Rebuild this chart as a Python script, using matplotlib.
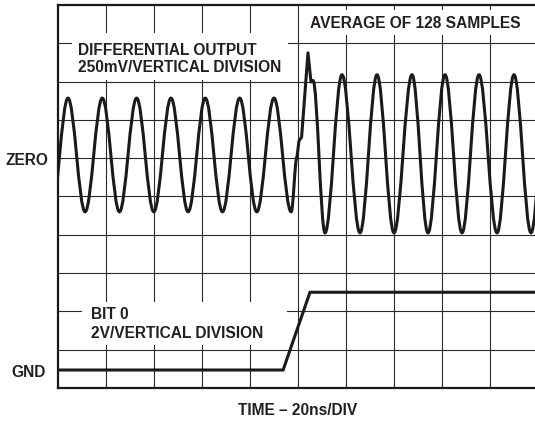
import matplotlib
matplotlib.use("Agg")
import matplotlib.pyplot as plt
from matplotlib.path import Path
from matplotlib.patches import PathPatch, Rectangle

plt.rcParams['font.family'] = ['Liberation Sans', 'DejaVu Sans']

# differential output, peaks and troughs (divisions)
pre_t = [-0.14, 0.208, 0.565, 0.923, 1.28, 1.638, 1.996, 2.354, 2.711,
         3.069, 3.427, 3.785, 4.142, 4.5, 4.858]
pre_v = [4.6, 7.57, 4.6, 7.57, 4.6, 7.57, 4.6, 7.57, 4.6,
         7.57, 4.6, 7.57, 4.6, 7.57, 4.6]

# glitch when bit 0 switches
glitch_t = [4.979, 5.02, 5.075, 5.208, 5.271, 5.313]
glitch_v = [6.03, 6.45, 6.55, 8.75, 7.99, 8.03]

post_t = [5.5625, 5.917, 6.292, 6.646, 7.0, 7.375, 7.708, 8.063,
          8.417, 8.771, 9.146, 9.5, 9.854, 10.21]
post_v = [4.05, 8.18, 4.05, 8.18, 4.05, 8.18, 4.05, 8.18,
          4.05, 8.18, 4.05, 8.18, 4.05, 8.18]

# bit 0 trace
bit_t = [0, 4.69, 5.25, 10.5]
bit_v = [0.47, 0.47, 2.5, 2.5]

K = 0.3634  # cubic bezier handle for a half cosine


def add_curve(verts, codes, p0, p1):
    dx = p1[0] - p0[0]
    verts += [(p0[0] + K * dx, p0[1]), (p1[0] - K * dx, p1[1]), p1]
    codes += [Path.CURVE4] * 3


verts = [(pre_t[0], pre_v[0])]
codes = [Path.MOVETO]
for i in range(1, len(pre_t)):
    add_curve(verts, codes, verts[-1], (pre_t[i], pre_v[i]))
add_curve(verts, codes, verts[-1], (glitch_t[0], glitch_v[0]))
for i in range(1, len(glitch_t)):
    verts.append((glitch_t[i], glitch_v[i]))
    codes.append(Path.LINETO)
for i in range(len(post_t)):
    add_curve(verts, codes, verts[-1], (post_t[i], post_v[i]))

fig = plt.figure(figsize=(5.35, 4.23), dpi=100)
ax = fig.add_axes([58 / 535, 35 / 423, 480 / 535, 383 / 423])
ax.set_xlim(0, 10)
ax.set_ylim(0, 10)
ax.set_xticks([])
ax.set_yticks([])
for s in ['top', 'left', 'bottom']:
    ax.spines[s].set_linewidth(1.6)
    ax.spines[s].set_color('#1a1a1a')
ax.spines['right'].set_visible(False)

for k in range(1, 10):
    ax.axvline(k, color='#2a2a2a', lw=0.8, zorder=1)
    ax.axhline(k, color='#2a2a2a', lw=0.8, zorder=1)

# white label areas that hide the graticule
for x0, y0, w, h in [(0.29, 8.04, 4.5, 1.23), (5.04, 9.22, 5.2, 0.65),
                     (0.5, 1.12, 4.27, 1.13)]:
    ax.add_patch(Rectangle((x0, y0), w, h, facecolor='white',
                           edgecolor='none', zorder=2))

ax.add_patch(PathPatch(Path(verts, codes), facecolor='none',
                       edgecolor='#1a1a1a', lw=2.2, zorder=4,
                       capstyle='round', joinstyle='round'))
ax.plot(bit_t, bit_v, color='#1a1a1a', lw=2.2, zorder=4,
        solid_joinstyle='miter')

fs = 11.2
tk = dict(fontsize=fs, fontweight='bold', color='#231f20', zorder=3,
          va='baseline')
ax.text(0.417, 8.69, 'DIFFERENTIAL OUTPUT', ha='left', **tk)
ax.text(0.417, 8.25, '250mV/VERTICAL DIVISION', ha='left', **tk)
ax.text(5.25, 9.40, 'AVERAGE OF 128 SAMPLES', ha='left', **tk)
ax.text(0.69, 1.80, 'BIT 0', ha='left', **tk)
ax.text(0.69, 1.31, '2V/VERTICAL DIVISION', ha='left', **tk)
ax.text(-0.21, 5.82, 'ZERO', ha='right', clip_on=False, **tk)
ax.text(-0.25, 0.29, 'GND', ha='right', clip_on=False, **tk)
ax.text(5.0, -0.70, 'TIME – 20ns/DIV', ha='center', clip_on=False, **tk)

fig.savefig('out.png', dpi=100)
